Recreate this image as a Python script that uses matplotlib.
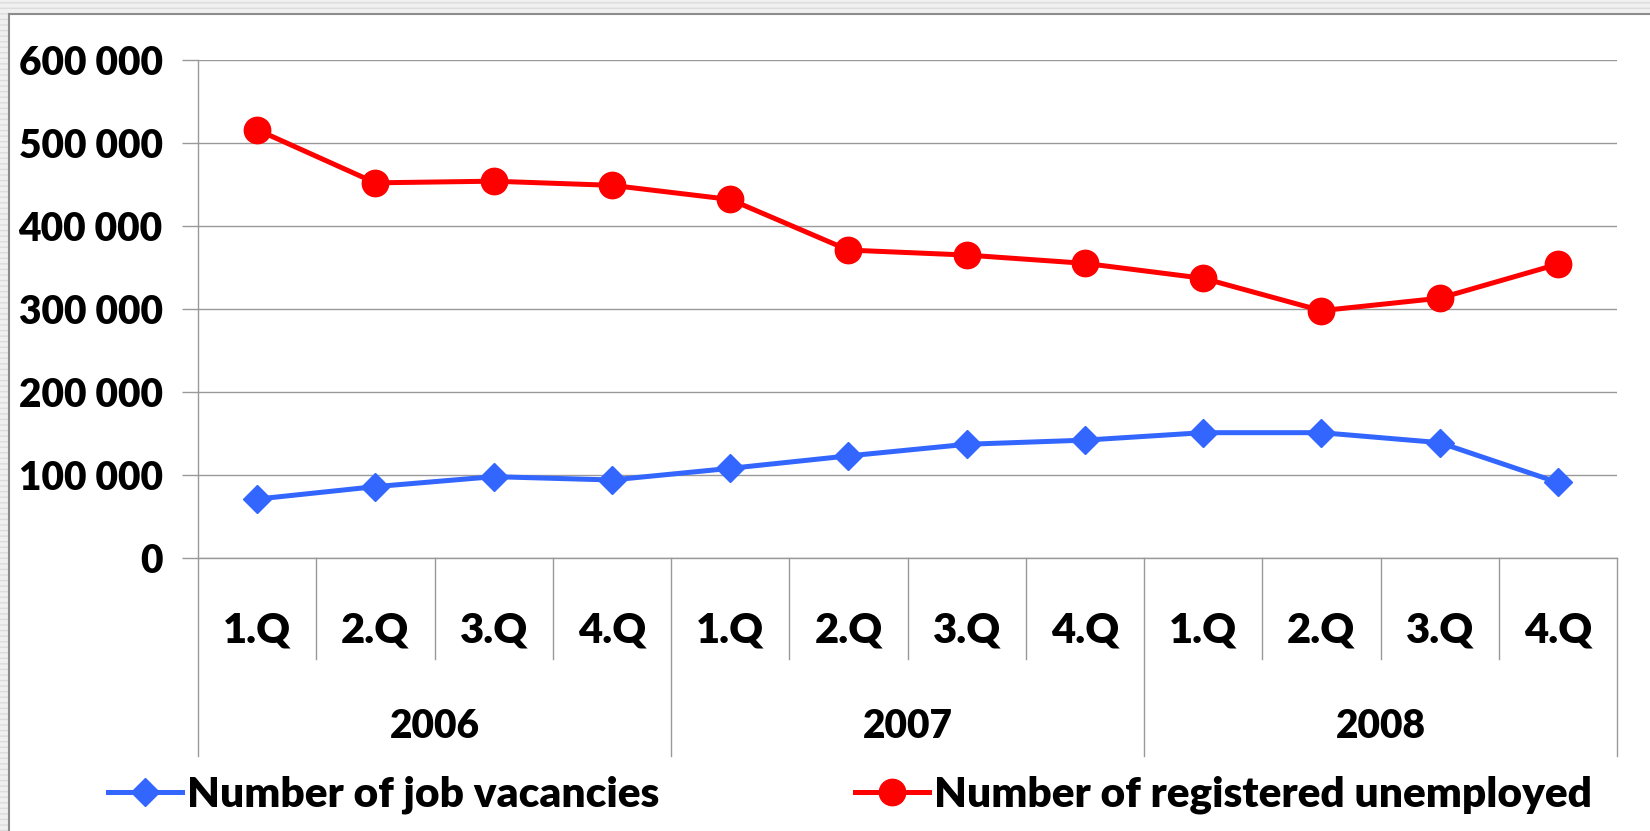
import matplotlib.pyplot as plt
from matplotlib.patches import Rectangle
from matplotlib.lines import Line2D

quarters = ['1.Q', '2.Q', '3.Q', '4.Q'] * 3
years = ['2006', '2007', '2008']
vacancies = [71000, 86000, 98000, 94000, 108000, 123000, 137000, 142000, 151000, 151000, 139000, 91000]
unemployed = [516000, 452000, 454000, 449000, 432000, 371000, 365000, 355000, 337000, 298000, 313000, 354000]
y_ticks = [0, 100000, 200000, 300000, 400000, 500000, 600000]

plt.rcParams['font.family'] = ['Lato', 'DejaVu Sans']
plt.rcParams['font.weight'] = 'heavy'
wt = 'heavy'

fig = plt.figure(figsize=(16.5, 8.31), dpi=100)
W, H = 1650, 831

# striped margin at left and top, like the sheet background
fig.patches.append(Rectangle((0, 0), 9 / W, 1, transform=fig.transFigure,
                             facecolor='#f0f0f0', edgecolor='#dcdcdc', hatch='---', lw=0))
fig.patches.append(Rectangle((0, 1 - 14 / H), 1, 14 / H, transform=fig.transFigure,
                             facecolor='#f0f0f0', edgecolor='#dcdcdc', hatch='---', lw=0))
fig.add_artist(Line2D([9 / W, 9 / W], [0, 1 - 14 / H], transform=fig.transFigure, color='#8c8c8c', lw=1.5))
fig.add_artist(Line2D([9 / W, 1], [1 - 14 / H, 1 - 14 / H], transform=fig.transFigure, color='#8c8c8c', lw=1.5))

x0, x1, y0, y1 = 198, 1617, 558, 60
ax = fig.add_axes([x0 / W, 1 - y0 / H, (x1 - x0) / W, (y0 - y1) / H])

n = len(quarters)
xs = list(range(n))
ax.plot(xs, vacancies, color='#3366ff', lw=3.6, marker='D', ms=14, zorder=3,
        label='Number of job vacancies')
ax.plot(xs, unemployed, color='#ff0000', lw=3.6, marker='o', ms=19, zorder=3,
        label='Number of registered unemployed')

ax.set_xlim(-0.5, n - 0.5)
ax.set_ylim(0, 600000)
ax.set_yticks(y_ticks)
ax.set_yticklabels([f'{v:,}'.replace(',', ' ') for v in y_ticks], fontsize=28, fontweight=wt)
ax.tick_params(axis='y', length=11.5, width=1, color='#999999', pad=14)
ax.set_xticks([])
ax.grid(axis='y', color='#999999', lw=1)
ax.set_axisbelow(True)
for s in ['top', 'right']:
    ax.spines[s].set_visible(False)
for s in ['left', 'bottom']:
    ax.spines[s].set_color('#999999')
    ax.spines[s].set_linewidth(1)

trans = ax.get_xaxis_transform()
h = y0 - y1
q_bottom = -(659 - y0) / h
y_bottom = -(756 - y0) / h
for i in range(n + 1):
    b = y_bottom if i % 4 == 0 else q_bottom
    ax.plot([i - 0.5, i - 0.5], [0, b], transform=trans, color='#999999', lw=1, clip_on=False)
for i, q in enumerate(quarters):
    ax.text(i, -(631 - y0) / h, q, transform=trans, ha='center', va='center',
            fontsize=30, fontweight=wt)
for j, yr in enumerate(years):
    ax.text(4 * j + 1.5, -(726 - y0) / h, yr, transform=trans, ha='center', va='center',
            fontsize=28, fontweight=wt)

fig.legend(loc='center', bbox_to_anchor=(850 / W, 1 - 795 / H), ncol=2, frameon=False,
           prop={'size': 30.5, 'weight': wt}, handlelength=1.75, handletextpad=0.12,
           columnspacing=4.6)

fig.savefig('out.png', dpi=100, facecolor='white')
